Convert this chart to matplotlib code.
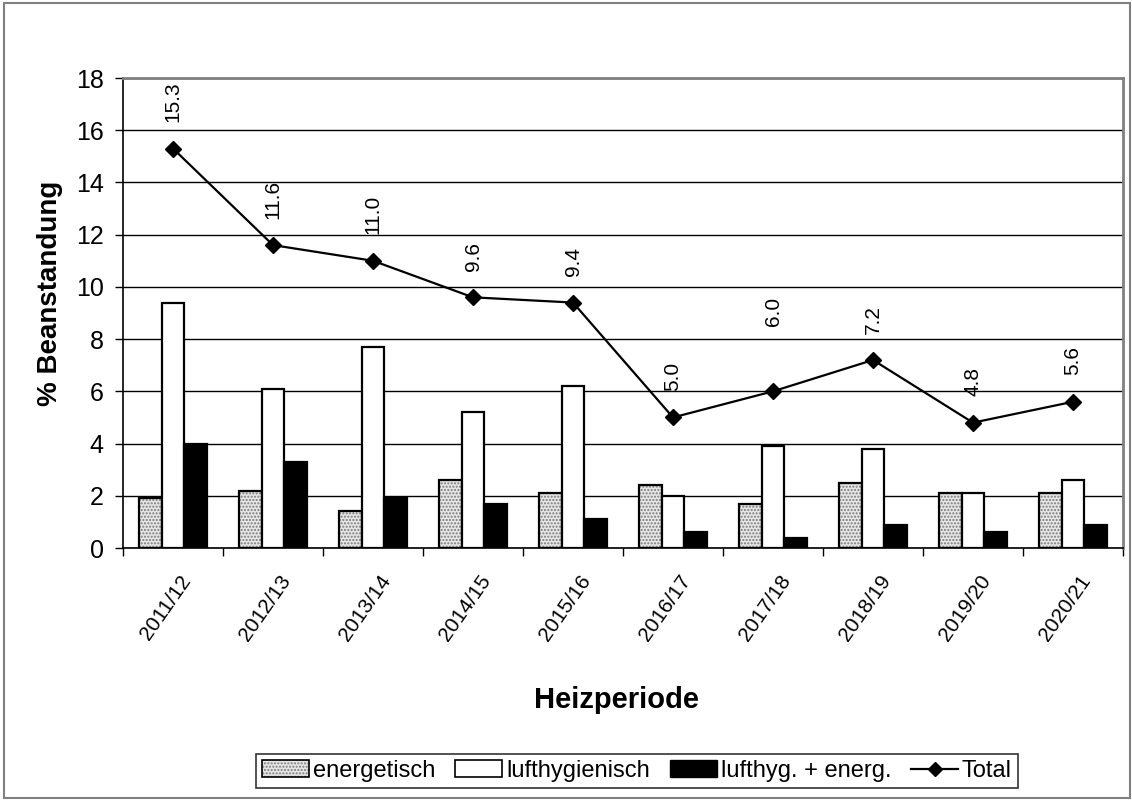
import matplotlib
matplotlib.use("Agg")
import matplotlib.pyplot as plt
import numpy as np
from matplotlib.patches import Patch, Rectangle
from matplotlib.lines import Line2D
from matplotlib.legend_handler import HandlerTuple

plt.rcParams['font.family'] = ['Liberation Sans', 'DejaVu Sans']

# Daten
perioden = ['2011/12', '2012/13', '2013/14', '2014/15', '2015/16',
            '2016/17', '2017/18', '2018/19', '2019/20', '2020/21']
energetisch = [1.9, 2.2, 1.4, 2.6, 2.1, 2.4, 1.7, 2.5, 2.1, 2.1]
lufthygienisch = [9.4, 6.1, 7.7, 5.2, 6.2, 2.0, 3.9, 3.8, 2.1, 2.6]
beides = [4.0, 3.3, 1.9, 1.7, 1.1, 0.6, 0.4, 0.9, 0.6, 0.9]
total = [15.3, 11.6, 11.0, 9.6, 9.4, 5.0, 6.0, 7.2, 4.8, 5.6]

# Beschriftung 6.0 ist im Original weiter nach oben verschoben
extra_offset = {6: 28}

fig = plt.figure(figsize=(11.32, 8.01), dpi=100)
ax = fig.add_axes([123 / 1132, 1 - 548 / 801, 1000 / 1132, 470 / 801])

x = np.arange(len(perioden))
w = 0.228
lw = 1.6

# energetisch: gepunktet (zwei Lagen, damit Rand schwarz bleibt)
ax.bar(x - w, energetisch, w, color='#e6e6e6', edgecolor='#7a7a7a',
       hatch='.....', linewidth=0, zorder=2)
ax.bar(x - w, energetisch, w, fill=False, edgecolor='black', linewidth=lw, zorder=3)
ax.bar(x, lufthygienisch, w, color='white', edgecolor='black', linewidth=lw, zorder=3)
ax.bar(x + w, beides, w, color='black', edgecolor='black', linewidth=lw, zorder=3)

ax.plot(x, total, color='black', lw=1.6, marker='D', markersize=8, zorder=4)

for i, v in enumerate(total):
    ax.annotate(f'{v:.1f}', (x[i], v), xytext=(0, 19 + extra_offset.get(i, 0)),
                textcoords='offset points', rotation=90, ha='center', va='bottom',
                fontsize=15)

ax.set_xlim(-0.5, len(perioden) - 0.5)
ax.set_ylim(0, 18)
ax.set_yticks(np.arange(0, 19, 2))
ax.tick_params(axis='y', labelsize=18, length=6, width=1, direction='out', pad=8)
ax.set_xticks(np.append(x - 0.5, len(perioden) - 0.5))
ax.set_xticklabels([])
ax.tick_params(axis='x', length=6, width=1, direction='out')
for i, lab in enumerate(perioden):
    ax.text(x[i] + 0.06, -0.9, lab, rotation=55, ha='right', va='top',
            rotation_mode='anchor', fontsize=15)

ax.yaxis.grid(True, color='black', lw=1, zorder=0)
ax.set_axisbelow(True)
for s in ['top', 'right']:
    ax.spines[s].set_color('#808080')
    ax.spines[s].set_linewidth(2)
ax.spines['left'].set_linewidth(1.2)
ax.spines['bottom'].set_linewidth(1.2)

fig.text(50 / 1132, 1 - 293 / 801, '% Beanstandung', fontsize=20,
         fontweight='bold', rotation=90, ha='center', va='center')
fig.text(616 / 1132, 1 - 700 / 801, 'Heizperiode', fontsize=21,
         fontweight='bold', ha='center', va='center')

# Legende
h_en = (Patch(facecolor='#e6e6e6', edgecolor='#7a7a7a', hatch='.....', linewidth=0),
        Patch(fill=False, edgecolor='black', linewidth=1.2))
h_lu = Patch(facecolor='white', edgecolor='black', linewidth=1.2)
h_be = Patch(facecolor='black', edgecolor='black')
h_to = Line2D([], [], color='black', lw=1.6, marker='D', markersize=7)
leg = fig.legend([h_en, h_lu, h_be, h_to],
                 ['energetisch', 'lufthygienisch', 'lufthyg. + energ.', 'Total'],
                 handler_map={tuple: HandlerTuple(ndivide=1, pad=0)},
                 loc='center', bbox_to_anchor=(637 / 1132, 1 - 771 / 801),
                 ncol=4, fontsize=17, frameon=True, fancybox=False,
                 edgecolor='black', handlelength=2.0, handletextpad=0.15,
                 columnspacing=0.85, borderpad=0.25)
leg.get_frame().set_linewidth(1.2)

fig.patches.append(Rectangle((4 / 1132, 3 / 801), 1126 / 1132, 795 / 801,
                             transform=fig.transFigure, fill=False,
                             edgecolor='#808080', lw=1.5))

fig.savefig('out.png', dpi=100)
